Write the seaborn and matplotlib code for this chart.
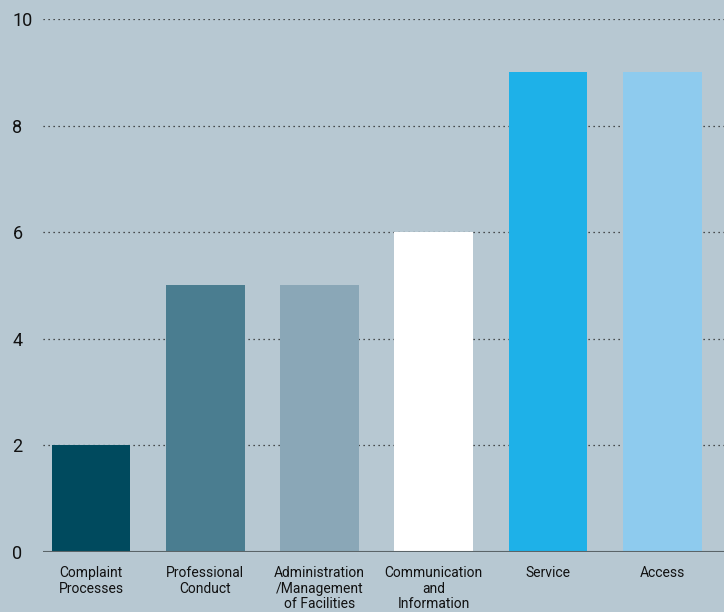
import numpy as np
import pandas as pd
import matplotlib.pyplot as plt
import seaborn as sns

categories = ["Complaint\nProcesses", "Professional\nConduct",
              "Administration\n/Management\nof Facilities",
              "Communication\nand\nInformation", "Service", "Access"]
values = [2, 5, 5, 6, 9, 9]
colors = ["#004a5e", "#4a7d90", "#8aa7b7", "#ffffff", "#1eb1e8", "#8ecbee"]
yticks = [0, 2, 4, 6, 8, 10]

bg = "#b7c8d2"
plt.rcParams['font.family'] = ['Roboto', 'DejaVu Sans']


def main():
    df = pd.DataFrame({"Category": categories, "Value": values})
    fig = plt.figure(figsize=(7.24, 6.12), dpi=100, facecolor=bg)
    ax = fig.add_axes([0.0594, 0.098, 0.9406, 0.871])
    ax.set_facecolor(bg)

    for t in yticks[1:]:
        ax.axhline(t, color="#222222", linestyle=(0, (1, 3)), linewidth=0.9, zorder=0)

    sns.barplot(data=df, x="Category", y="Value", hue="Category",
                palette=colors, width=0.69, legend=False, ax=ax,
                saturation=1, zorder=2)

    ax.axhline(0, color="#5a6468", linewidth=1.5, zorder=3)
    ax.set_xlim(-0.42, 5.54)
    ax.set_ylim(0, 10)
    ax.set_yticks(yticks)
    ax.set_xlabel("")
    ax.set_ylabel("")
    for s in ax.spines.values():
        s.set_visible(False)
    ax.tick_params(axis="y", length=0, labelsize=13, pad=22, labelcolor="#111111")
    ax.tick_params(axis="x", length=0, labelsize=10, pad=10, labelcolor="#111111")
    for lbl in ax.get_yticklabels():
        lbl.set_horizontalalignment("left")
    for lbl in ax.get_xticklabels():
        lbl.set_linespacing(1.15)

    fig.savefig("out.png", dpi=100, facecolor=bg)


if __name__ == "__main__":
    main()
